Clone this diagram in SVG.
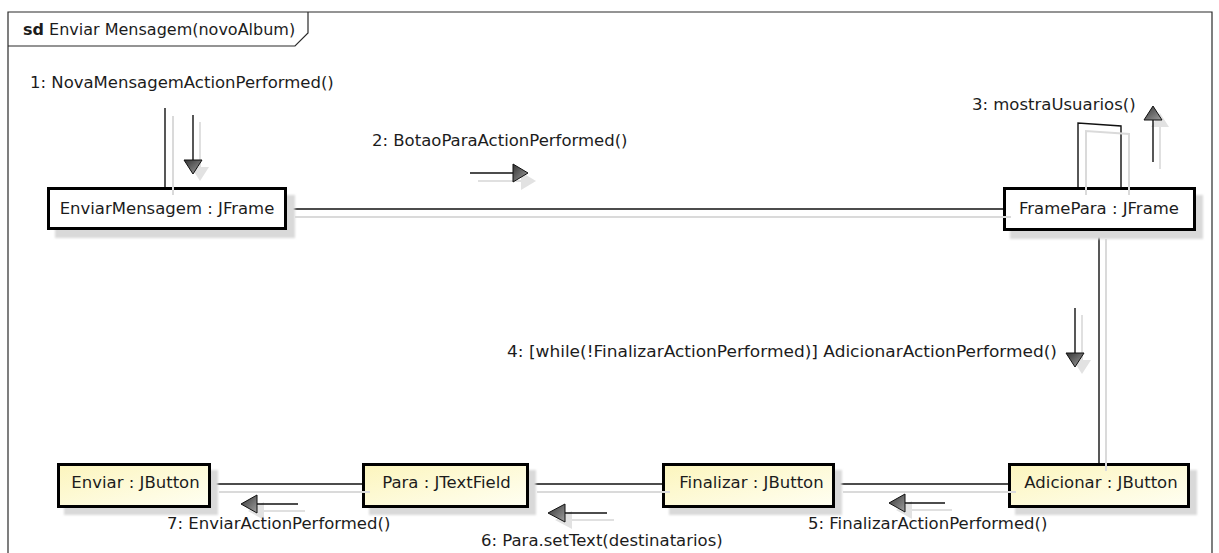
<svg xmlns="http://www.w3.org/2000/svg" width="1219" height="553" viewBox="0 0 1219 553">
  <defs>
    <style>
      text { font-family: "DejaVu Sans", "Liberation Sans", sans-serif; font-size: 16.5px; fill: #1c1c1c; }
      .title { font-size: 16px; }
      .frame { fill: none; stroke: #2a2a2a; stroke-width: 1.2; }
      .box { stroke: #000; stroke-width: 3; }
      .obj { fill: #fff; }
      .btn { fill: url(#btnFill); }
      .boxShadow { fill: #d9d9d9; filter: url(#soft); }
      .link { fill: none; stroke: #111; stroke-width: 1.4; }
      .linkShadow { fill: none; stroke: #dadada; stroke-width: 2; }
      .msg { stroke: #111; stroke-width: 1.4; }
      .msgShadow { stroke: #e0e0e0; stroke-width: 2; }
      .head { fill: url(#headFill); stroke: #111; stroke-width: 1; }
      .headShadow { fill: #e2e2e2; }
    </style>
    <linearGradient id="btnFill" x1="0" y1="0" x2="1" y2="1">
      <stop offset="0" stop-color="#fcf5bd"/>
      <stop offset="1" stop-color="#fffff3"/>
    </linearGradient>
    <linearGradient id="headFill" x1="0" y1="0" x2="1" y2="1">
      <stop offset="0" stop-color="#333"/>
      <stop offset="1" stop-color="#a0a0a0"/>
    </linearGradient>
    <filter id="soft" x="-5%" y="-20%" width="110%" height="140%">
      <feGaussianBlur stdDeviation="0.8"/>
    </filter>
  </defs>

  <!-- sequence frame with its name tab -->
  <g id="frame">
    <path class="frame" d="M8,560 V12 H1212 V560"/>
    <path class="frame" d="M8,46 H295 L308,33 V12"/>
    <text class="title" x="23" y="35"><tspan font-weight="bold">sd</tspan> Enviar Mensagem(novoAlbum)</text>
  </g>

  <!-- links between objects, drawn under the boxes -->
  <g id="connectors">
    <line class="link" x1="287" y1="209" x2="1003" y2="209"/>
    <line class="link" x1="1099" y1="231" x2="1099" y2="463"/>
    <line class="link" x1="1008" y1="484" x2="835" y2="484"/>
    <line class="link" x1="662" y1="484" x2="529" y2="484"/>
    <line class="link" x1="362" y1="484" x2="211" y2="484"/>
    <line class="link" x1="165" y1="108" x2="165" y2="187"/>
    <path class="link" d="M1078,187 V123 L1121,126 V187"/>
  </g>

  <!-- objects -->
  <g id="node-enviarMensagem">
    <rect class="boxShadow" x="55" y="195" width="240" height="43"/>
    <rect class="box obj" x="48.5" y="188.5" width="237" height="40"/>
    <text x="167" y="214" text-anchor="middle">EnviarMensagem : JFrame</text>
  </g>
  <g id="node-framePara">
    <rect class="boxShadow" x="1010" y="195" width="193" height="44"/>
    <rect class="box obj" x="1004.5" y="188.5" width="190" height="41"/>
    <text x="1099" y="214" text-anchor="middle">FramePara : JFrame</text>
  </g>
  <g id="node-adicionar">
    <rect class="boxShadow" x="1015" y="470" width="182" height="45"/>
    <rect class="box btn" x="1009.5" y="464.5" width="179" height="42"/>
    <text x="1101" y="488" text-anchor="middle">Adicionar : JButton</text>
  </g>
  <g id="node-finalizar">
    <rect class="boxShadow" x="669" y="470" width="173" height="45"/>
    <rect class="box btn" x="663.5" y="464.5" width="170" height="42"/>
    <text x="751.5" y="488" text-anchor="middle">Finalizar : JButton</text>
  </g>
  <g id="node-para">
    <rect class="boxShadow" x="369" y="470" width="167" height="45"/>
    <rect class="box btn" x="363.5" y="464.5" width="164" height="42"/>
    <text x="446.5" y="488" text-anchor="middle">Para : JTextField</text>
  </g>
  <g id="node-enviar">
    <rect class="boxShadow" x="64" y="470" width="154" height="45"/>
    <rect class="box btn" x="58.5" y="464.5" width="151" height="42"/>
    <text x="135.5" y="488" text-anchor="middle">Enviar : JButton</text>
  </g>

  <!-- link shadows, laid over the box edges -->
  <g id="link-shadows">
    <line class="linkShadow" x1="295" y1="217" x2="1011" y2="217"/>
    <line class="linkShadow" x1="1106" y1="239" x2="1106" y2="471"/>
    <line class="linkShadow" x1="1016" y1="492" x2="843" y2="492"/>
    <line class="linkShadow" x1="670" y1="492" x2="537" y2="492"/>
    <line class="linkShadow" x1="370" y1="492" x2="219" y2="492"/>
    <line class="linkShadow" x1="173" y1="116" x2="173" y2="195"/>
    <path class="linkShadow" d="M1086,195 V131 L1129,134 V195"/>
  </g>

  <!-- message arrows -->
  <g id="messages">
    <!-- 1 -->
    <line class="msgShadow" x1="200" y1="122" x2="200" y2="167"/>
    <polygon class="headShadow" points="191,167 209,167 200,181"/>
    <line class="msg" x1="193" y1="115" x2="193" y2="160"/>
    <polygon class="head" points="184,160 202,160 193,174"/>
    <!-- 2 -->
    <line class="msgShadow" x1="478" y1="181" x2="521" y2="181"/>
    <polygon class="headShadow" points="521,172 521,190 536,181"/>
    <line class="msg" x1="470" y1="173" x2="513" y2="173"/>
    <polygon class="head" points="513,164 513,182 528,173"/>
    <!-- 3 -->
    <line class="msgShadow" x1="1160" y1="169" x2="1160" y2="127"/>
    <polygon class="headShadow" points="1151,127 1169,127 1160,113"/>
    <line class="msg" x1="1153" y1="162" x2="1153" y2="120"/>
    <polygon class="head" points="1144,120 1162,120 1153,106"/>
    <!-- 4 -->
    <line class="msgShadow" x1="1082" y1="315" x2="1082" y2="360"/>
    <polygon class="headShadow" points="1073,360 1091,360 1082,374"/>
    <line class="msg" x1="1075" y1="308" x2="1075" y2="353"/>
    <polygon class="head" points="1066,353 1084,353 1075,367"/>
    <!-- 5 -->
    <line class="msgShadow" x1="952" y1="510" x2="912" y2="510"/>
    <polygon class="headShadow" points="912,501 912,519 896,510"/>
    <line class="msg" x1="945" y1="503" x2="905" y2="503"/>
    <polygon class="head" points="905,494 905,512 889,503"/>
    <!-- 6 -->
    <line class="msgShadow" x1="614" y1="520" x2="572" y2="520"/>
    <polygon class="headShadow" points="572,511 572,529 555,520"/>
    <line class="msg" x1="607" y1="513" x2="565" y2="513"/>
    <polygon class="head" points="565,504 565,522 548,513"/>
    <!-- 7 -->
    <line class="msgShadow" x1="305" y1="511" x2="264" y2="511"/>
    <polygon class="headShadow" points="264,502 264,520 248,511"/>
    <line class="msg" x1="298" y1="504" x2="257" y2="504"/>
    <polygon class="head" points="257,495 257,513 241,504"/>
  </g>

  <!-- message labels -->
  <g id="labels">
    <text x="30" y="88">1: NovaMensagemActionPerformed()</text>
    <text x="372" y="146">2: BotaoParaActionPerformed()</text>
    <text x="972" y="110">3: mostraUsuarios()</text>
    <text x="1057" y="357" text-anchor="end" textLength="550" lengthAdjust="spacingAndGlyphs">4: [while(!FinalizarActionPerformed)] AdicionarActionPerformed()</text>
    <text x="808" y="529">5: FinalizarActionPerformed()</text>
    <text x="481" y="546">6: Para.setText(destinatarios)</text>
    <text x="167" y="529">7: EnviarActionPerformed()</text>
  </g>
</svg>
